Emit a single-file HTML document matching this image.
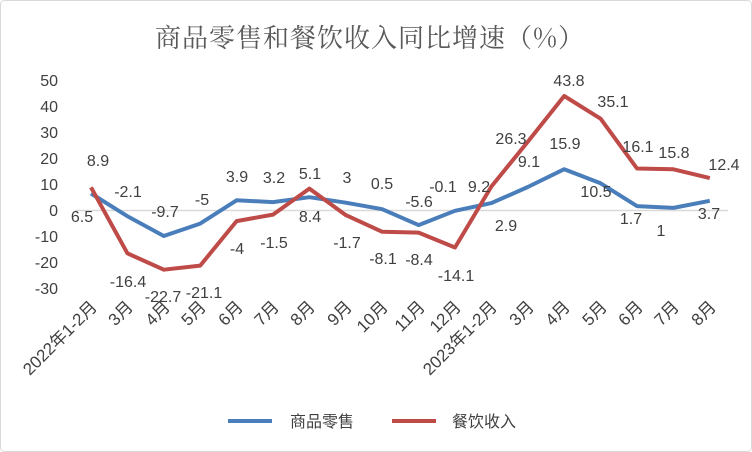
<!DOCTYPE html>
<html><head><meta charset="utf-8"><style>
body{margin:0;background:#fff;}
svg{display:block;}
.t{font-family:"Liberation Sans","Noto Sans CJK SC",sans-serif;font-size:16px;fill:#404040;}
.x{font-size:17px;}
</style></head><body>
<svg width="752" height="452" viewBox="0 0 752 452" xmlns="http://www.w3.org/2000/svg">
<rect x="0.5" y="0.5" width="751" height="451" rx="4" fill="#fff" stroke="#d9d9d9"/>
<text x="370" y="47" text-anchor="middle" font-family="'Noto Serif CJK SC',serif" font-size="26" fill="#595959" letter-spacing="1">商品零售和餐饮收入同比增速（%）</text>
<g class="t" text-anchor="end">
<text x="58" y="86">50</text><text x="58" y="112">40</text><text x="58" y="138">30</text><text x="58" y="164">20</text><text x="58" y="190">10</text><text x="58" y="216">0</text><text x="58" y="242">-10</text><text x="58" y="268">-20</text><text x="58" y="294">-30</text>
</g>
<line x1="75" y1="210.5" x2="728" y2="210.5" stroke="#d9d9d9" stroke-width="1.5"/>
<polyline fill="none" stroke="#4a7ebb" stroke-width="4" stroke-linejoin="round" points="91,193.5 127.4,216.2 163.8,236.0 200.2,223.6 236.6,200.3 273,202.1 309.4,197.2 345.8,202.7 382.2,209.2 418.6,225.1 455,210.8 491.4,203.1 527.8,187.0 564.2,169.2 600.6,183.3 637,206.1 673.4,207.9 709.8,200.8"/>
<polyline fill="none" stroke="#be4b48" stroke-width="4" stroke-linejoin="round" points="91,187.3 127.4,253.3 163.8,269.7 200.2,265.6 236.6,221.1 273,214.6 309.4,188.6 345.8,215.1 382.2,231.8 418.6,232.6 455,247.5 491.4,186.5 527.8,141.7 564.2,96.0 600.6,118.7 637,168.5 673.4,169.3 709.8,178.1"/>
<g class="t" text-anchor="middle">
<text x="98" y="166">8.9</text><text x="128" y="197">-2.1</text><text x="82" y="222">6.5</text><text x="165" y="217">-9.7</text><text x="202" y="205">-5</text><text x="237" y="182">3.9</text><text x="274" y="183">3.2</text><text x="310" y="179">5.1</text><text x="347" y="183">3</text><text x="310" y="222">8.4</text><text x="237" y="254">-4</text><text x="274" y="248">-1.5</text><text x="347" y="248">-1.7</text><text x="128" y="287">-16.4</text><text x="163" y="302">-22.7</text><text x="204" y="298">-21.1</text>
<text x="382" y="189">0.5</text><text x="383" y="264">-8.1</text><text x="419" y="207">-5.6</text><text x="419" y="265">-8.4</text><text x="443" y="192">-0.1</text><text x="479" y="192">9.2</text><text x="456" y="281">-14.1</text><text x="506" y="231">2.9</text><text x="511" y="144">26.3</text><text x="529" y="167">9.1</text><text x="569" y="86">43.8</text><text x="565" y="149">15.9</text><text x="613" y="107">35.1</text><text x="596" y="197">10.5</text><text x="638" y="152">16.1</text><text x="631" y="224">1.7</text><text x="674" y="158">15.8</text><text x="661" y="236">1</text><text x="724" y="170">12.4</text><text x="709" y="219">3.7</text>
</g>
<g class="t x" text-anchor="end">
<text transform="translate(98,308) rotate(-45)">2022年1-2月</text>
<text transform="translate(134,308) rotate(-45)">3月</text>
<text transform="translate(171,308) rotate(-45)">4月</text>
<text transform="translate(207,308) rotate(-45)">5月</text>
<text transform="translate(244,308) rotate(-45)">6月</text>
<text transform="translate(280,308) rotate(-45)">7月</text>
<text transform="translate(316,308) rotate(-45)">8月</text>
<text transform="translate(353,308) rotate(-45)">9月</text>
<text transform="translate(389,308) rotate(-45)">10月</text>
<text transform="translate(426,308) rotate(-45)">11月</text>
<text transform="translate(462,308) rotate(-45)">12月</text>
<text transform="translate(498,308) rotate(-45)">2023年1-2月</text>
<text transform="translate(535,308) rotate(-45)">3月</text>
<text transform="translate(571,308) rotate(-45)">4月</text>
<text transform="translate(608,308) rotate(-45)">5月</text>
<text transform="translate(644,308) rotate(-45)">6月</text>
<text transform="translate(680,308) rotate(-45)">7月</text>
<text transform="translate(717,308) rotate(-45)">8月</text>
</g>
<line x1="228" y1="421" x2="272" y2="421" stroke="#4a7ebb" stroke-width="4"/>
<text class="t" x="290" y="427" font-size="17">商品零售</text>
<line x1="392" y1="421" x2="436" y2="421" stroke="#be4b48" stroke-width="4"/>
<text class="t" x="452" y="427" font-size="17">餐饮收入</text>
</svg>
</body></html>
